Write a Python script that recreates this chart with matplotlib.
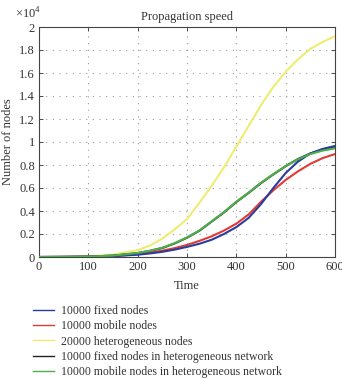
import matplotlib
matplotlib.use("Agg")
import matplotlib.pyplot as plt
import numpy as np

plt.rcParams['font.family'] = ['Liberation Serif', 'DejaVu Serif']
plt.rcParams['mathtext.fontset'] = 'custom'
plt.rcParams['mathtext.rm'] = 'Liberation Serif'

t = [0, 50, 100, 150, 200, 225, 250, 275, 300, 325, 350, 375, 400, 425, 450, 475, 500, 525, 550, 575, 600]

fixed = [0, 0.001, 0.002, 0.007, 0.02, 0.031, 0.045, 0.064, 0.088, 0.115, 0.15, 0.2, 0.26, 0.34, 0.46, 0.6, 0.73, 0.83, 0.9, 0.94, 0.965]
mobile = [0, 0.001, 0.002, 0.008, 0.025, 0.038, 0.055, 0.077, 0.105, 0.14, 0.18, 0.23, 0.29, 0.37, 0.48, 0.58, 0.67, 0.745, 0.81, 0.86, 0.895]
hetero = [0, 0.001, 0.005, 0.02, 0.06, 0.1, 0.16, 0.24, 0.33, 0.47, 0.62, 0.78, 0.96, 1.14, 1.32, 1.48, 1.61, 1.72, 1.81, 1.87, 1.92]
fixed_het = [0, 0.001, 0.004, 0.012, 0.034, 0.053, 0.078, 0.118, 0.168, 0.228, 0.308, 0.388, 0.478, 0.558, 0.643, 0.718, 0.79, 0.852, 0.9, 0.935, 0.96]
mobile_het = [0, 0.001, 0.004, 0.012, 0.035, 0.055, 0.08, 0.12, 0.17, 0.23, 0.31, 0.39, 0.48, 0.56, 0.645, 0.72, 0.79, 0.85, 0.895, 0.925, 0.945]

labels = ["10000 fixed nodes", "10000 mobile nodes", "20000 heterogeneous nodes",
          "10000 fixed nodes in heterogeneous network", "10000 mobile nodes in heterogeneous network"]
colors = ["#2a3c9e", "#e03a35", "#f0ec72", "#222222", "#4cb04a"]

xticks = [0, 100, 200, 300, 400, 500, 600]
yticks = [0, 0.2, 0.4, 0.6, 0.8, 1.0, 1.2, 1.4, 1.6, 1.8, 2.0]
yticklabels = ["0", "0.2", "0.4", "0.6", "0.8", "1", "1.2", "1.4", "1.6", "1.8", "2"]

fig = plt.figure(figsize=(3.42, 3.78), dpi=100)
ax = fig.add_axes([39/342, 121/378, 296/342, 230/378])

series = [fixed, mobile, hetero, fixed_het, mobile_het]
order = [2, 3, 4, 1, 0]
lines = {}
for i in order:
    l, = ax.plot(t, series[i], color=colors[i], lw=1.5, zorder=3 + (0.5 if i == 4 else 0))
    lines[i] = l

ax.set_xlim(0, 600)
ax.set_ylim(0, 2)
ax.set_xticks(xticks)
ax.set_yticks(yticks)
ax.set_yticklabels(yticklabels)
ax.tick_params(direction='in', top=True, right=True, labelsize=9, length=3, width=0.6, colors='#333333', labelcolor='#333333', pad=3)
ax.grid(True, color='#9a9a9a', linestyle=(0, (1, 5)), linewidth=0.8)
for s in ax.spines.values():
    s.set_linewidth(0.8)
    s.set_color('#444444')

ax.set_title("Propagation speed", fontsize=9, color='#333333', pad=5)
ax.set_xlabel("Time", fontsize=9, color='#333333', labelpad=5)
ax.set_ylabel("Number of nodes", fontsize=9, color='#333333', labelpad=4)
fig.text(15/342, 1 - 14/378, r"$\times10^{4}$", fontsize=9, color='#333333', va='center', ha='left')

handles = [lines[i] for i in range(5)]
leg = fig.legend(handles, labels, loc='upper left', bbox_to_anchor=(33/342, 1 - 305/378),
                 frameon=False, fontsize=8.5, handlelength=1.8, labelspacing=0.28,
                 borderpad=0, handletextpad=0.6, borderaxespad=0)
for h in leg.get_lines():
    h.set_linewidth(1.0)
for txt in leg.get_texts():
    txt.set_color('#333333')

fig.savefig("out.png", dpi=100)
